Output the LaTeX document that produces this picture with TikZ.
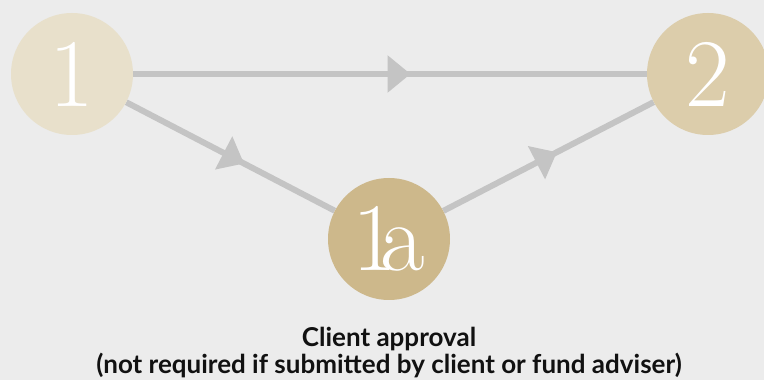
\documentclass[tikz,border=0pt]{standalone}
\usepackage{fontspec}
\setsansfont{Lato}
\usetikzlibrary{arrows.meta,decorations.markings}
\definecolor{bgc}{HTML}{ECECEC}
\definecolor{linec}{HTML}{C4C4C4}
\definecolor{cone}{HTML}{E8E0CB}
\definecolor{ctwo}{HTML}{DCCDAB}
\definecolor{conea}{HTML}{CDB88B}
\definecolor{txt}{HTML}{111111}
\tikzset{
  stage/.style={circle, minimum size=122pt, inner sep=0pt, text=white,
    font=\fontsize{97}{97}\selectfont},
  link/.style={draw=linec, line width=6pt},
  midarrow/.style={postaction={decorate}, decoration={markings,
    mark=at position #1 with {\arrow[linec]{Triangle[length=23pt,width=36pt]}}}},
  caption/.style={anchor=base, inner sep=0pt, text=txt,
    font=\sffamily\bfseries\fontsize{26}{26}\selectfont},
}
\begin{document}
\begin{tikzpicture}[x=1pt,y=1pt]
\useasboundingbox (0,0) rectangle (764,380);
\fill[bgc] (0,0) rectangle (764,380);
\clip (0,0) rectangle (764,380);
\node[stage] (n1) at (72,306) {};
\node[stage] (n2) at (708,306) {};
\node[stage] (n1a) at (389,141) {};
\path[link, midarrow=0.54] (n1) -- (n2);
\path[link, midarrow=0.565] (n1) -- (n1a);
\path[link, midarrow=0.54] (n1a) -- (n2);
\node[stage, fill=cone] at (n1) {1};
\node[stage, fill=ctwo] at (n2) {2};
\node[stage, fill=conea] at (n1a) {1\kern-0.17em a};
\node[caption] (t1) at (389,33.5) {Client approval};
\node[caption] (t2) at (389,6) {(not required if submitted by client or fund adviser)};
\end{tikzpicture}
\end{document}
